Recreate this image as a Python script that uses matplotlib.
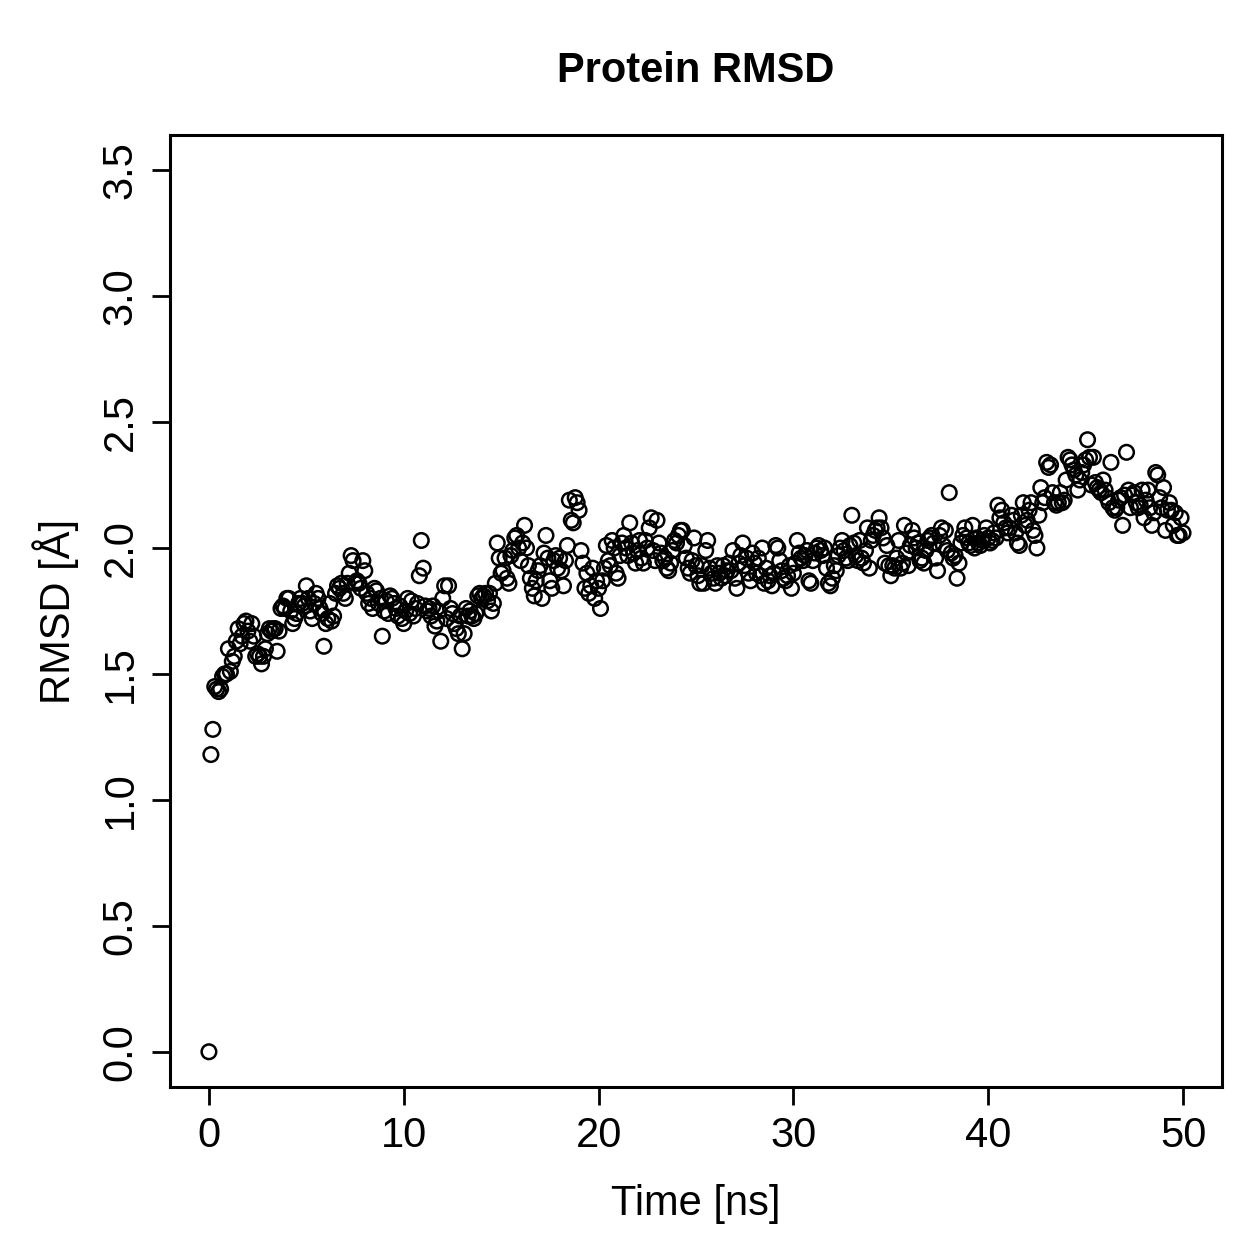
import numpy as np
import matplotlib
matplotlib.use("Agg")
import matplotlib.pyplot as plt

plt.rcParams['font.family'] = ['Liberation Sans', 'DejaVu Sans']

# time step of the trajectory, 0.1 ns
dt = 0.1

# RMSD values, one row per ns (10 frames per ns)
rmsd_rows = [
    [0.00, 1.18, 1.28, 1.45, 1.44, 1.43, 1.44, 1.49, 1.50, 1.50],
    [1.60, 1.51, 1.55, 1.57, 1.63, 1.68, 1.62, 1.65, 1.70, 1.71],
    [1.67, 1.63, 1.70, 1.65, 1.57, 1.58, 1.57, 1.54, 1.57, 1.60],
    [1.66, 1.68, 1.67, 1.68, 1.68, 1.59, 1.67, 1.76, 1.77, 1.76],
    [1.80, 1.80, 1.75, 1.70, 1.72, 1.74, 1.78, 1.80, 1.78, 1.77],
    [1.85, 1.80, 1.75, 1.72, 1.78, 1.82, 1.80, 1.76, 1.74, 1.61],
    [1.70, 1.72, 1.78, 1.71, 1.73, 1.82, 1.85, 1.84, 1.86, 1.82],
    [1.80, 1.86, 1.90, 1.97, 1.95, 1.86, 1.87, 1.86, 1.84, 1.95],
    [1.91, 1.82, 1.78, 1.80, 1.76, 1.84, 1.83, 1.78, 1.80, 1.65],
    [1.75, 1.79, 1.74, 1.81, 1.80, 1.78, 1.76, 1.73, 1.77, 1.72],
    [1.70, 1.75, 1.80, 1.74, 1.79, 1.73, 1.76, 1.78, 1.89, 2.03],
    [1.92, 1.77, 1.75, 1.76, 1.73, 1.77, 1.69, 1.71, 1.75, 1.63],
    [1.80, 1.85, 1.72, 1.85, 1.76, 1.74, 1.70, 1.68, 1.66, 1.73],
    [1.60, 1.66, 1.76, 1.73, 1.75, 1.73, 1.72, 1.74, 1.81, 1.82],
    [1.80, 1.81, 1.82, 1.79, 1.82, 1.75, 1.78, 1.86, 2.02, 1.96],
    [1.90, 1.91, 1.96, 1.88, 1.86, 1.97, 1.99, 2.04, 2.05, 2.00],
    [1.95, 2.02, 2.09, 2.00, 1.93, 1.88, 1.84, 1.81, 1.87, 1.91],
    [1.93, 1.80, 1.98, 2.05, 1.96, 1.87, 1.84, 1.95, 1.97, 1.92],
    [1.96, 1.91, 1.85, 1.95, 2.01, 2.19, 2.11, 2.10, 2.20, 2.18],
    [2.15, 1.99, 1.94, 1.84, 1.90, 1.82, 1.85, 1.92, 1.80, 1.87],
    [1.84, 1.76, 1.87, 1.92, 2.01, 1.95, 1.93, 2.03, 2.00, 1.90],
    [1.88, 1.97, 2.02, 2.05, 2.00, 1.97, 2.10, 2.02, 1.98, 1.94],
    [1.99, 2.03, 1.96, 1.94, 2.03, 2.00, 2.08, 2.12, 1.99, 1.95],
    [2.11, 2.02, 1.98, 1.95, 1.96, 1.92, 1.91, 1.94, 1.99, 2.03],
    [2.02, 2.05, 2.07, 2.07, 2.01, 1.96, 1.92, 1.90, 1.95, 2.04],
    [1.93, 1.89, 1.86, 1.93, 1.86, 1.99, 2.03, 1.92, 1.90, 1.88],
    [1.86, 1.93, 1.90, 1.88, 1.93, 1.89, 1.91, 1.94, 1.91, 1.99],
    [1.88, 1.84, 1.94, 1.97, 2.02, 1.93, 1.96, 1.90, 1.87, 1.98],
    [1.94, 1.90, 1.96, 1.89, 2.00, 1.86, 1.92, 1.87, 1.89, 1.85],
    [1.90, 2.01, 2.00, 1.95, 1.91, 1.88, 1.87, 1.89, 1.93, 1.84],
    [1.90, 1.94, 2.03, 1.98, 1.96, 1.95, 1.97, 1.99, 1.87, 1.86],
    [1.95, 1.98, 2.00, 2.01, 1.99, 1.97, 2.00, 1.92, 1.86, 1.85],
    [1.88, 1.93, 1.91, 1.97, 2.00, 2.03, 1.99, 1.96, 1.95, 2.01],
    [2.13, 2.02, 1.97, 1.95, 2.03, 1.96, 1.94, 1.99, 2.08, 1.92],
    [2.03, 2.05, 2.07, 2.08, 2.12, 2.08, 2.04, 1.94, 2.01, 1.93],
    [1.89, 1.93, 1.92, 1.96, 2.03, 1.92, 1.94, 2.09, 1.98, 1.93],
    [2.01, 2.07, 2.04, 2.00, 2.02, 1.95, 1.96, 1.94, 1.99, 2.03],
    [2.04, 2.05, 2.02, 1.96, 1.91, 2.05, 2.08, 2.01, 2.07, 1.99],
    [2.22, 1.98, 1.96, 1.97, 1.88, 1.94, 2.02, 2.05, 2.08, 2.04],
    [2.02, 2.01, 2.09, 2.00, 2.04, 2.02, 2.01, 2.03, 2.05, 2.08],
    [2.04, 2.02, 2.03, 2.06, 2.04, 2.17, 2.12, 2.15, 2.10, 2.08],
    [2.06, 2.08, 2.13, 2.11, 2.06, 2.02, 2.01, 2.13, 2.18, 2.09],
    [2.11, 2.15, 2.18, 2.07, 2.05, 2.00, 2.13, 2.24, 2.18, 2.20],
    [2.34, 2.32, 2.33, 2.22, 2.18, 2.17, 2.18, 2.22, 2.18, 2.19],
    [2.27, 2.36, 2.35, 2.33, 2.31, 2.29, 2.23, 2.27, 2.30, 2.33],
    [2.35, 2.43, 2.36, 2.25, 2.36, 2.26, 2.24, 2.23, 2.22, 2.27],
    [2.23, 2.20, 2.18, 2.34, 2.16, 2.15, 2.16, 2.19, 2.20, 2.09],
    [2.21, 2.38, 2.23, 2.16, 2.21, 2.22, 2.18, 2.16, 2.17, 2.23],
    [2.12, 2.19, 2.23, 2.16, 2.09, 2.14, 2.30, 2.29, 2.20, 2.16],
    [2.24, 2.07, 2.15, 2.18, 2.15, 2.09, 2.14, 2.05, 2.05, 2.12],
    [2.06],
]

rmsd = np.array([v for row in rmsd_rows for v in row])
time_ns = np.arange(len(rmsd)) * dt

x_ticks = [0, 10, 20, 30, 40, 50]
y_ticks = [0.0, 0.5, 1.0, 1.5, 2.0, 2.5, 3.0, 3.5]

fig = plt.figure(figsize=(12.59, 12.59), dpi=100)
ax = fig.add_axes([0.135, 0.1366, 0.8356, 0.7562])

ax.scatter(time_ns, rmsd, s=10.5 ** 2, facecolors='none', edgecolors='black',
           linewidths=1.8)

# R style 4% padding
ax.set_xlim(-2, 52)
ax.set_ylim(-0.14, 3.64)
ax.set_xticks(x_ticks)
ax.set_xticklabels([str(t) for t in x_ticks])
ax.set_yticks(y_ticks)
ax.set_yticklabels([f"{t:.1f}" for t in y_ticks], rotation=90, va='center')

ax.tick_params(direction='out', length=13, width=2.0, labelsize=30, pad=8)
for sp in ax.spines.values():
    sp.set_linewidth(2.2)

ax.set_xlabel("Time [ns]", fontsize=30, labelpad=20)
ax.set_ylabel("RMSD [Å]", fontsize=30, labelpad=16)
fig.text(0.5525, 0.944, "Protein RMSD", ha='center', va='center',
         fontsize=30, fontweight='bold')

fig.savefig("out.png", dpi=100)
